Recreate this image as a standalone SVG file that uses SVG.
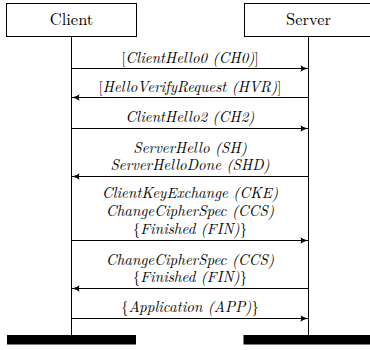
<svg xmlns="http://www.w3.org/2000/svg" width="370" height="350" viewBox="0 0 370 350">
  <defs>
    <style>
      .box { fill: #fff; stroke: #000; stroke-width: 1; }
      .life { stroke: #000; stroke-width: 1; fill: none; }
      .bar { fill: #000; }
      .msg { stroke: #000; stroke-width: 1; fill: none; marker-end: url(#tip); }
    </style>
    <marker id="tip" viewBox="0 0 10 8" refX="9.5" refY="4" markerWidth="8" markerHeight="6.4" markerUnits="userSpaceOnUse" orient="auto">
      <path d="M0,0 Q4,3.2 10,4 Q4,4.8 0,8 Q2,4 0,0 Z" fill="#000"/>
    </marker>
  </defs>

  <!-- participants -->
  <g id="client">
    <rect class="box" x="6.5" y="3.5" width="130" height="33"/>
    <text x="71.5" y="25" font-family="Latin Modern Roman, Liberation Serif, serif" font-size="16.5" text-anchor="middle" fill="#000">Client</text>
    <line class="life" x1="71.5" y1="37" x2="71.5" y2="335"/>
    <rect class="bar" x="7" y="335" width="129" height="9.5"/>
  </g>
  <g id="server">
    <rect class="box" x="244.5" y="3.5" width="130" height="33"/>
    <text x="308.5" y="25" font-family="Latin Modern Roman, Liberation Serif, serif" font-size="16.5" text-anchor="middle" fill="#000">Server</text>
    <line class="life" x1="308.5" y1="37" x2="308.5" y2="335"/>
    <rect class="bar" x="243.5" y="335" width="130" height="9.5"/>
  </g>

  <!-- messages -->
  <g id="connectors">
    <line class="msg" x1="71.5" y1="68.5" x2="308" y2="68.5"/>
    <line class="msg" x1="308.5" y1="97.5" x2="72" y2="97.5"/>
    <line class="msg" x1="71.5" y1="128.5" x2="308" y2="128.5"/>
    <line class="msg" x1="308.5" y1="176.5" x2="72" y2="176.5"/>
    <line class="msg" x1="71.5" y1="240.5" x2="308" y2="240.5"/>
    <line class="msg" x1="308.5" y1="288.5" x2="72" y2="288.5"/>
    <line class="msg" x1="71.5" y1="318.5" x2="308" y2="318.5"/>
  </g>

  <g id="labels" font-family="Latin Modern Roman, Liberation Serif, serif" font-size="15" font-style="italic" text-anchor="middle" fill="#000">
    <text x="190" y="62.5"><tspan font-style="normal">[</tspan>ClientHello0 (CH0)<tspan font-style="normal">]</tspan></text>
    <text x="190" y="91.5"><tspan font-style="normal">[</tspan>HelloVerifyRequest (HVR)<tspan font-style="normal">]</tspan></text>
    <text x="190" y="122">ClientHello2 (CH2)</text>
    <text x="190" y="152.5">ServerHello (SH)</text>
    <text x="190" y="170">ServerHelloDone (SHD)</text>
    <text x="190" y="197.5">ClientKeyExchange (CKE)</text>
    <text x="190" y="215.5">ChangeCipherSpec (CCS)</text>
    <text x="190" y="233.5"><tspan font-style="normal">{</tspan>Finished (FIN)<tspan font-style="normal">}</tspan></text>
    <text x="190" y="264.5">ChangeCipherSpec (CCS)</text>
    <text x="190" y="282"><tspan font-style="normal">{</tspan>Finished (FIN)<tspan font-style="normal">}</tspan></text>
    <text x="190" y="312"><tspan font-style="normal">{</tspan>Application (APP)<tspan font-style="normal">}</tspan></text>
  </g>
</svg>
